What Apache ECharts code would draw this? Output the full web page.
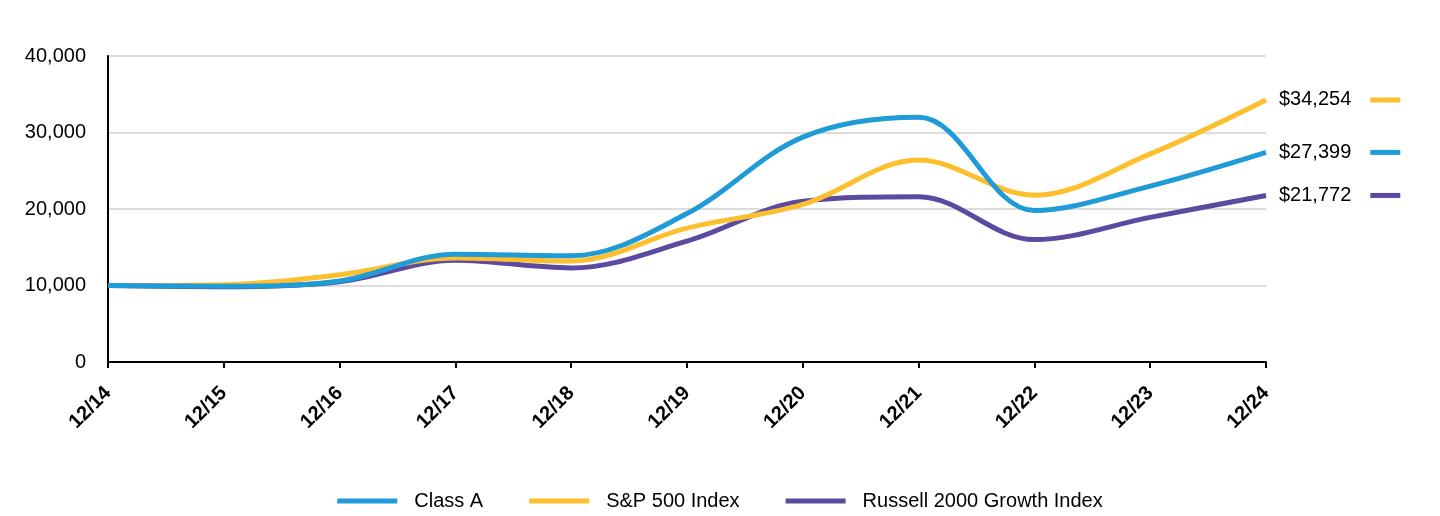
<!DOCTYPE html>
<html><head><meta charset="utf-8">
<script src="https://cdn.jsdelivr.net/npm/echarts@6/dist/echarts.min.js"></script>
<style>html,body{margin:0;padding:0;background:#fff}#c{width:1440px;height:516px}</style>
</head><body><div id="c"></div>
<script>
const categories = ['12/14','12/15','12/16','12/17','12/18','12/19','12/20','12/21','12/22','12/23','12/24'];
const classA = [10000, 9900, 10600, 14100, 13900, 19400, 29400, 32000, 19800, 23000, 27399];
const sp500 = [10000, 10100, 11400, 13600, 13200, 17500, 20600, 26400, 21800, 27200, 34254];
const russell = [10000, 9850, 10500, 13300, 12300, 15800, 21000, 21600, 16000, 18900, 21772];
const endLabels = ['$27,399', '$34,254', '$21,772'];
const names = ['Class A', 'S&P 500 Index', 'Russell 2000 Growth Index'];
const colors = ['#1f9bd7', '#fdbf2d', '#5b4aa0'];

function mk(i, data, z) {
  return {
    name: names[i], type: 'line', data: data, smooth: 0.35, symbol: 'none', z: z,
    lineStyle: { width: 5, color: colors[i] }, itemStyle: { color: colors[i] },
    endLabel: {
      show: true, distance: 13,
      formatter: () => '{t|' + endLabels[i] + '}{g|}{b|}',
      rich: {
        t: { fontSize: 20, color: '#000', fontFamily: 'Liberation Sans, Arial, sans-serif' },
        g: { width: 19 },
        b: { width: 30, height: 5, backgroundColor: colors[i] }
      }
    }
  };
}
const chart = echarts.init(document.getElementById('c'));
chart.setOption({
  animation: false,
  textStyle: { fontFamily: 'Liberation Sans, Arial, sans-serif' },
  grid: { left: 108, right: 174, top: 56, bottom: 154 },
  legend: {
    bottom: 0, left: 'center', itemWidth: 60, itemHeight: 5, itemGap: 46,
    data: names,
    textStyle: { fontSize: 20, color: '#000', padding: [0, 0, 0, 12] },
    icon: 'rect'
  },
  xAxis: {
    type: 'category', data: categories, boundaryGap: false,
    axisLine: { lineStyle: { color: '#000', width: 2 } },
    axisTick: { show: true, length: 6, lineStyle: { color: '#000', width: 2 } },
    axisLabel: { rotate: 45, fontSize: 20, fontWeight: 'bold', color: '#000', margin: 28 }
  },
  yAxis: {
    type: 'value', min: 0, max: 40000, interval: 10000,
    axisLine: { show: true, lineStyle: { color: '#000', width: 2 } },
    axisTick: { show: false },
    axisLabel: { fontSize: 20, color: '#000', margin: 22, formatter: v => v.toLocaleString('en-US') },
    splitLine: { lineStyle: { color: '#dcdcdc', width: 2 } }
  },
  series: [mk(2, russell, 1), mk(1, sp500, 2), mk(0, classA, 3)]
});
</script></body></html>
